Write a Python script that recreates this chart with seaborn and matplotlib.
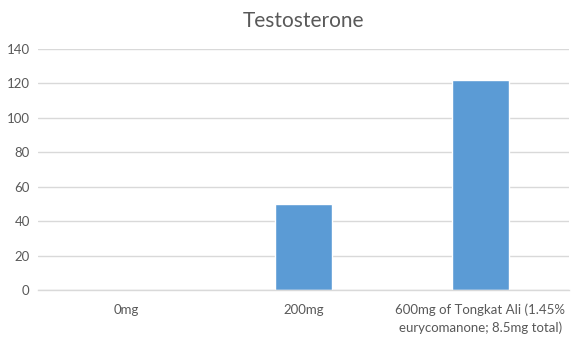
import matplotlib
matplotlib.use("Agg")
import matplotlib.pyplot as plt
import seaborn as sns
import pandas as pd

categories = ["0mg", "200mg", "600mg of Tongkat Ali (1.45%\neurycomanone; 8.5mg total)"]
values = [0, 50, 122]
yticks = [0, 20, 40, 60, 80, 100, 120, 140]

sns.set_theme(style="white")
plt.rcParams['font.family'] = ['Lato', 'DejaVu Sans']

df = pd.DataFrame({"cat": categories, "val": values})

fig = plt.figure(figsize=(5.77, 3.38), dpi=100)
ax = fig.add_axes([0.066, 0.142, 0.92, 0.713])
sns.barplot(data=df, x="cat", y="val", color="#5B9BD5", width=0.32, ax=ax, saturation=1)

ax.set_ylim(0, 140)
ax.set_yticks(yticks)
ax.set_xlim(-0.5, 2.5)
ax.yaxis.grid(True, color="#D9D9D9", linewidth=1)
ax.set_axisbelow(True)
for s in ["left", "right", "top"]:
    ax.spines[s].set_visible(False)
ax.spines["bottom"].set_color("#D9D9D9")
ax.spines["bottom"].set_linewidth(1)
ax.tick_params(axis="both", length=0, colors="#595959", labelsize=9.5)
ax.tick_params(axis="x", pad=10)
ax.tick_params(axis="y", pad=6)
ax.set_xlabel("")
ax.set_ylabel("")
for lbl in ax.get_xticklabels():
    lbl.set_ha("center")
    lbl.set_linespacing(1.45)
ax.set_title("Testosterone", fontsize=15, color="#595959", pad=16)

fig.savefig("out.png", dpi=100)
